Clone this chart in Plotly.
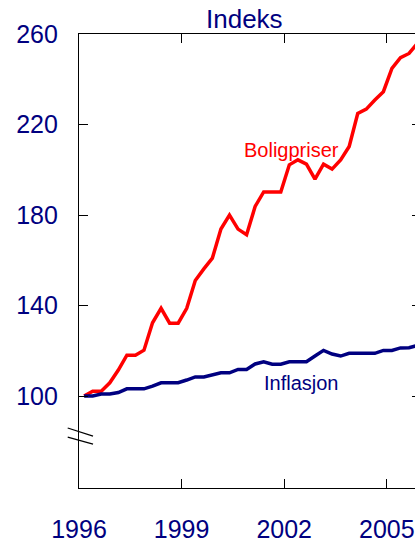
import plotly.graph_objects as go

# Quarterly data 1996Q1 - 2005Q4, index 1996Q1 = 100
years = [y for y in range(1996, 2006) for _ in range(4)]
quarters = [1, 2, 3, 4] * 10

boligpriser = [100, 102.2, 102.2, 105.9, 111.5, 118.1, 118.1, 120.3,
               132.4, 138.8, 132.2, 132.2, 138.8, 151.1, 156.2, 161.0,
               173.8, 180.0, 173.8, 171.3, 183.8, 190.2, 190.2, 190.2,
               202.2, 204.4, 202.5, 195.9, 202.5, 200.3, 204.4, 210.3,
               224.9, 226.8, 230.8, 234.5, 244.8, 249.5, 251.4, 256.0]

inflasjon = [100, 100.1, 100.9, 100.9, 101.6, 103.2, 103.2, 103.2,
             104.4, 105.9, 105.9, 105.9, 107.1, 108.5, 108.5, 109.4,
             110.3, 110.3, 111.8, 111.8, 114.2, 115.2, 114.1, 114.1,
             115.2, 115.2, 115.2, 117.7, 120.2, 118.6, 117.7, 118.9,
             118.9, 118.9, 118.9, 120.2, 120.2, 121.3, 121.4, 122.4]

x_ticks = [1996, 1999, 2002, 2005]
y_ticks = [100, 140, 180, 220, 260]

x = [y + (q - 0.4) / 4 for y, q in zip(years, quarters)]

NAVY = "#000080"
RED = "#ff0000"
FONT = "Liberation Sans, Arial, sans-serif"

fig = go.Figure()
fig.add_trace(go.Scatter(x=x, y=boligpriser, mode="lines",
                         line=dict(color=RED, width=3.5), showlegend=False,
                         hoverinfo="skip"))
fig.add_trace(go.Scatter(x=x, y=inflasjon, mode="lines",
                         line=dict(color=NAVY, width=3.5), showlegend=False,
                         hoverinfo="skip"))

fig.add_annotation(x=2002.21, y=208.7, text="Boligpriser", showarrow=False,
                   font=dict(family=FONT, size=20, color=RED))
fig.add_annotation(x=2002.51, y=105.7, text="Inflasjon", showarrow=False,
                   font=dict(family=FONT, size=20, color=NAVY))
fig.add_annotation(xref="x domain", yref="paper", x=0.484, y=1,
                   yanchor="bottom", yshift=-2, text="Indeks", showarrow=False,
                   font=dict(family=FONT, size=26, color=NAVY))

# axis break marks
for y0, y1 in [(85.9, 82.3), (81.9, 78.8)]:
    fig.add_shape(type="line", xref="x domain", yref="y",
                  x0=-0.033, x1=0.041, y0=y0, y1=y1,
                  line=dict(color="black", width=1.2))

fig.update_xaxes(range=[1996, 2006], tickvals=x_ticks, automargin=False,
                 ticks="inside", ticklen=9, tickcolor="black",
                 showline=True, linecolor="black", linewidth=1.2, mirror="ticks",
                 showgrid=False, zeroline=False, ticklabelstandoff=19,
                 tickfont=dict(family=FONT, size=25, color=NAVY))
fig.update_yaxes(range=[59.4, 260], tickvals=y_ticks, automargin=False,
                 ticks="inside", ticklen=9, tickcolor="black",
                 showline=True, linecolor="black", linewidth=1.2, mirror="ticks",
                 showgrid=False, zeroline=False, ticklabelstandoff=15,
                 tickfont=dict(family=FONT, size=25, color=NAVY))

fig.update_layout(width=430, height=544,
                  margin=dict(l=79, r=9, t=34, b=56),
                  paper_bgcolor="white", plot_bgcolor="white",
                  hovermode=False)

fig.write_html("out.html", config={"displayModeBar": False},
               post_script="document.body.style.margin='0';"
                           "document.body.style.overflow='hidden';")
